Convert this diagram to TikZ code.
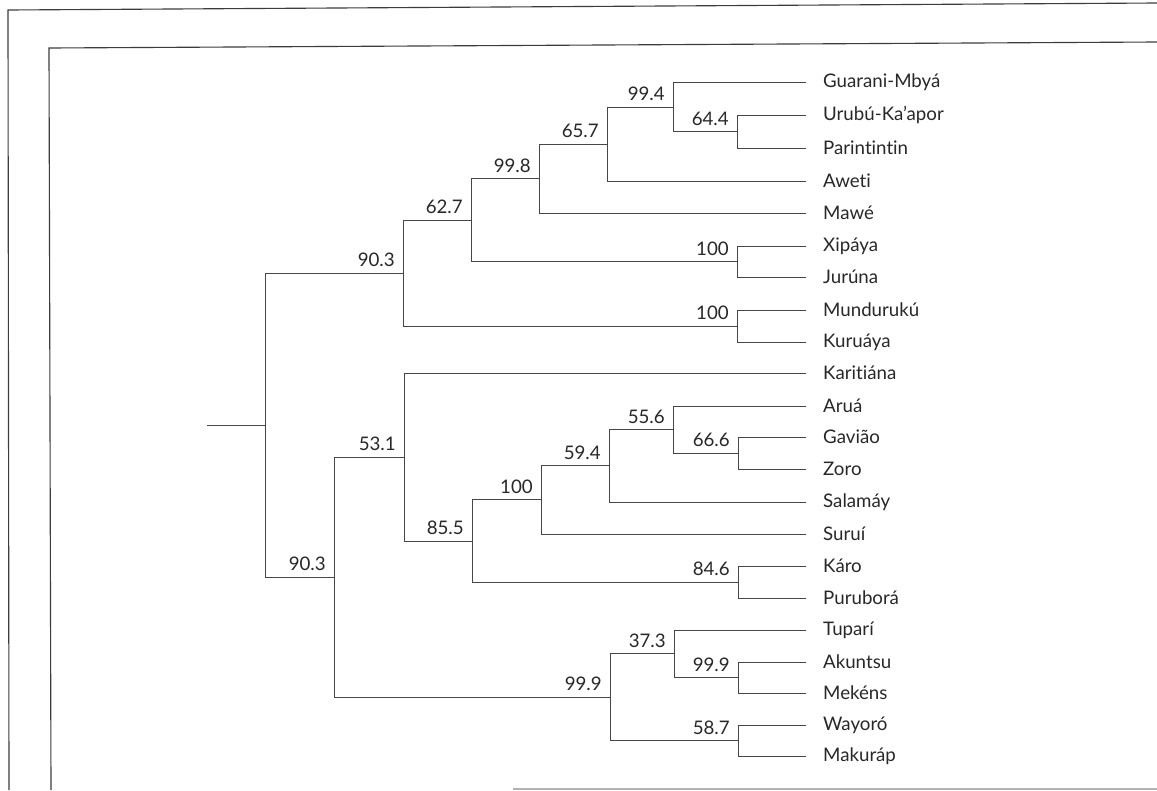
\documentclass[tikz,border=0pt]{standalone}
\usepackage{fontspec}
\setmainfont{Lato}[Ligatures={TeX,NoCommon}]
\usetikzlibrary{positioning}
\definecolor{linegray}{RGB}{70,70,70}
\definecolor{textgray}{RGB}{40,40,40}
\definecolor{framegray}{RGB}{60,60,60}

\begin{document}
\begin{tikzpicture}[
  x=0.025cm, y=-0.025cm,
  leaf/.style={anchor=west, inner xsep=12pt, inner ysep=0pt,
               font=\fontsize{13.3}{15}\selectfont, text=textgray},
  support/.style={anchor=south east, inner sep=0pt, xshift=-0.2cm, yshift=0.15cm,
                  font=\fontsize{13.3}{15}\selectfont, text=textgray},
  branch/.style={draw=linegray, line width=0.6pt},
  frame/.style={draw=framegray, line width=0.8pt},
]
  \useasboundingbox[fill=white] (0,0) rectangle (1157,790);

  % frames of the scanned page
  \draw[frame] (1157,3) -- (8,10) -- (9,790);
  \draw[frame] (1157,42) -- (49,48) -- (51,790);
  \draw[frame, draw=gray!60] (513,789) -- (1157,789);

  % leaves
  \foreach \n/\t/\y in {guarani/Guarani-Mbyá/82, urubu/Urubú-Ka'apor/115,
      parintintin/Parintintin/148, aweti/Aweti/181, mawe/Mawé/213,
      xipaya/Xipáya/246, juruna/Jurúna/277, munduruku/Mundurukú/310,
      kuruaya/Kuruáya/342, karitiana/Karitiána/373, arua/Aruá/406,
      gaviao/Gavião/437, zoro/Zoro/469, salamay/Salamáy/502, surui/Suruí/534,
      karo/Káro/566, purubora/Puruborá/598, tupari/Tuparí/630,
      akuntsu/Akuntsu/662, mekens/Mekéns/693, wayoro/Wayoró/725,
      makurap/Makuráp/756}
    \node[leaf] (\n) at (806,\y) {\t};

  % clades
  \coordinate (n644) at (737,131.5);
  \coordinate (n994) at (673,107);
  \coordinate (n657) at (607,144);
  \coordinate (n998) at (539,178.5);
  \coordinate (nxip) at (737,261.5);
  \coordinate (n627) at (471,220);
  \coordinate (nmun) at (737,326);
  \coordinate (n903a) at (403,273);
  \coordinate (n666) at (738,453);
  \coordinate (n556) at (673,429.5);
  \coordinate (n594) at (609,465.75);
  \coordinate (n100) at (541,499.9);
  \coordinate (nkaro) at (738,582);
  \coordinate (n855) at (472,541);
  \coordinate (n531) at (404,457);
  \coordinate (n999b) at (738,677.5);
  \coordinate (n373) at (674,653.75);
  \coordinate (n587) at (738,740.5);
  \coordinate (n999a) at (610,697);
  \coordinate (n903b) at (334,577);
  \coordinate (root) at (265,425);
  \coordinate (stub) at (207,425);

  \foreach \a/\b in {n644/urubu, n644/parintintin, n994/guarani, n994/n644,
      n657/n994, n657/aweti, n998/n657, n998/mawe, nxip/xipaya, nxip/juruna,
      n627/n998, n627/nxip, nmun/munduruku, nmun/kuruaya, n903a/n627,
      n903a/nmun, n666/gaviao, n666/zoro, n556/arua, n556/n666,
      n594/n556, n594/salamay, n100/n594, n100/surui, nkaro/karo,
      nkaro/purubora, n855/n100, n855/nkaro, n531/karitiana, n531/n855,
      n999b/akuntsu, n999b/mekens, n373/tupari, n373/n999b, n587/wayoro,
      n587/makurap, n999a/n373, n999a/n587, n903b/n531, n903b/n999a,
      root/n903a, root/n903b}
    \draw[branch] (\a) |- (\b);
  \draw[branch] (stub) -- (root);

  % bootstrap values
  \foreach \c/\v in {n994/99.4, n644/64.4, n657/65.7, n998/99.8, n627/62.7,
      nxip/100, nmun/100, n903a/90.3, n556/55.6, n666/66.6, n594/59.4,
      n100/100, n855/85.5, n531/53.1, nkaro/84.6, n373/37.3, n999b/99.9,
      n999a/99.9, n587/58.7, n903b/90.3}
    \node[support] (v-\c) at (\c) {\v};
\end{tikzpicture}
\end{document}
